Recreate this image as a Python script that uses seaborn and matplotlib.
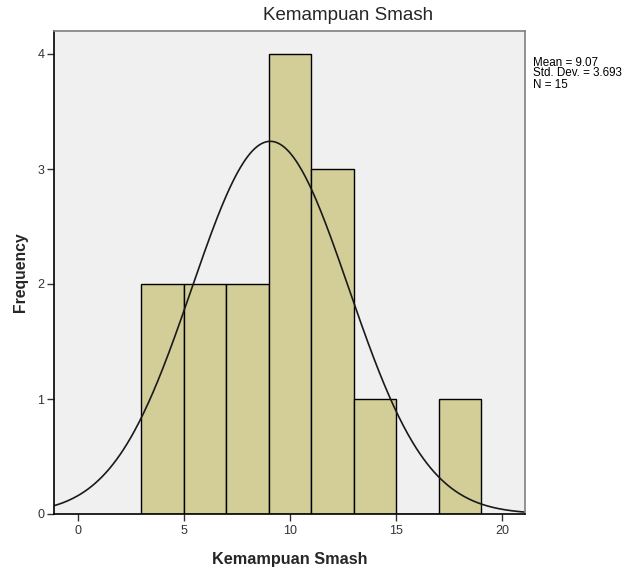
import numpy as np
import matplotlib
matplotlib.use("Agg")
import matplotlib.pyplot as plt
import seaborn as sns

# Data
bin_edges = [3, 5, 7, 9, 11, 13, 15, 17, 19]
counts = [2, 2, 2, 4, 3, 1, 0, 1]
mean_val = 9.07
std_val = 3.693
n_val = 15
title = "Kemampuan Smash"
xlabel = "Kemampuan Smash"
ylabel = "Frequency"
xticks = [0, 5, 10, 15, 20]
yticks = [0, 1, 2, 3, 4]

sns.set_theme(style="white")
plt.rcParams['font.family'] = ['Liberation Sans', 'DejaVu Sans']

centers = [(a + b) / 2 for a, b in zip(bin_edges[:-1], bin_edges[1:])]

fig = plt.figure(figsize=(6.31, 5.71), dpi=100)
ax = fig.add_axes([54 / 631, 1 - 514 / 571, (525 - 54) / 631, (514 - 31) / 571])
ax.set_facecolor("#f0f0f0")

sns.histplot(x=centers, weights=counts, bins=bin_edges, ax=ax,
             color="#d3ce97", alpha=1.0, edgecolor="black", linewidth=1.0)

xlim = (-1.12, 21.07)
xs = np.linspace(xlim[0], xlim[1], 400)
bw = bin_edges[1] - bin_edges[0]
ys = n_val * bw * np.exp(-0.5 * ((xs - mean_val) / std_val) ** 2) / (std_val * np.sqrt(2 * np.pi))
sns.lineplot(x=xs, y=ys, ax=ax, color="#1a1a1a", linewidth=1.2)

ax.set_xlim(*xlim)
ax.set_ylim(0, 4.2)
ax.set_xticks(xticks)
ax.set_yticks(yticks)
ax.tick_params(axis='both', direction='out', length=5, width=1, color="#333333",
               labelsize=9, labelcolor="#333333", pad=2)
ax.tick_params(axis='x', pad=3)
ax.tick_params(axis='both', bottom=True, left=True)

for side in ["left", "bottom"]:
    ax.spines[side].set_color("black")
    ax.spines[side].set_linewidth(1.2)
for side in ["top", "right"]:
    ax.spines[side].set_color("#808080")
    ax.spines[side].set_linewidth(1.2)
    ax.spines[side].set_visible(True)

ax.set_xlabel(xlabel, fontsize=11.7, fontweight="bold", labelpad=11)
ax.set_ylabel(ylabel, fontsize=11.3, fontweight="bold", labelpad=6.5)
fig.text(348.5 / 631, 1 - 15 / 571, title, fontsize=13.5, ha="center", va="center")

for i, line in enumerate([f"Mean = {mean_val:.2f}", f"Std. Dev. = {std_val:.3f}", f"N = {n_val}"]):
    fig.text(533 / 631, 1 - (62.5 + 11 * i) / 571, line, fontsize=8.4, ha="left", va="center",
             color="black")

fig.savefig("out.png", dpi=100)
